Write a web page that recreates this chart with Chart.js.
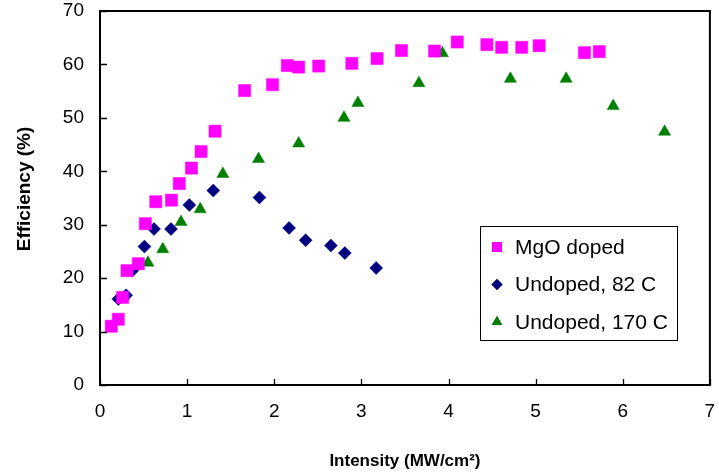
<!DOCTYPE html>
<html>
<head>
<meta charset="utf-8">
<script src="https://cdn.jsdelivr.net/npm/chart.js@4/dist/chart.umd.min.js"></script>
<style>
html,body{margin:0;padding:0;background:#fff;}
#wrap{position:relative;width:719px;height:473px;}
</style>
</head>
<body>
<div id="wrap"><canvas id="c" width="719" height="473"></canvas></div>
<script>
const mgoX = [0.13, 0.21, 0.26, 0.31, 0.44, 0.52, 0.64, 0.82, 0.91, 1.05, 1.16, 1.32, 1.66, 1.98, 2.15, 2.28, 2.51, 2.89, 3.18, 3.46, 3.84, 4.10, 4.44, 4.61, 4.84, 5.04, 5.56, 5.73];
const mgoY = [11.0, 12.3, 16.4, 21.4, 22.7, 30.2, 34.3, 34.6, 37.7, 40.6, 43.7, 47.5, 55.1, 56.2, 59.8, 59.5, 59.7, 60.2, 61.1, 62.6, 62.5, 64.2, 63.7, 63.2, 63.2, 63.5, 62.2, 62.4];
const u82X = [0.21, 0.30, 0.37, 0.51, 0.62, 0.815, 1.025, 1.30, 1.83, 2.17, 2.36, 2.65, 2.81, 3.17];
const u82Y = [16.1, 16.8, 21.4, 25.9, 29.2, 29.2, 33.7, 36.4, 35.1, 29.4, 27.1, 26.1, 24.7, 21.9];
const u170X = [0.55, 0.72, 0.93, 1.15, 1.41, 1.82, 2.28, 2.80, 2.96, 3.66, 3.93, 4.71, 5.35, 5.89, 6.48];
const u170Y = [22.9, 25.4, 30.5, 32.9, 39.5, 42.3, 45.2, 50.0, 52.8, 56.5, 62.1, 57.3, 57.3, 52.2, 47.4];
const seriesNames = ['MgO doped', 'Undoped, 82 C', 'Undoped, 170 C'];
const xTitle = 'Intensity (MW/cm\u00B2)';
const yTitle = 'Efficiency (%)';

const FONT = '"Liberation Sans", Arial, sans-serif';
const pts = (xs, ys) => xs.map((x, i) => ({x: x, y: ys[i]}));

const frame = {
  id: 'frame',
  afterDatasetsDraw(chart) {
    const {ctx, chartArea: a, scales} = chart;
    ctx.save();
    ctx.strokeStyle = '#000';
    ctx.lineWidth = 2;
    ctx.strokeRect(a.left, a.top, a.right - a.left, a.bottom - a.top);
    ctx.lineWidth = 1.3;
    ctx.beginPath();
    scales.x.ticks.forEach(t => {
      const px = Math.round(scales.x.getPixelForValue(t.value)) + 0.5;
      ctx.moveTo(px, a.bottom); ctx.lineTo(px, a.bottom - 6);
    });
    scales.y.ticks.forEach(t => {
      const py = Math.round(scales.y.getPixelForValue(t.value)) + 0.5;
      ctx.moveTo(a.left, py); ctx.lineTo(a.left + 7, py);
    });
    ctx.stroke();
    ctx.restore();
  },
  afterDraw(chart) {
    const ctx = chart.ctx;
    ctx.save();
    ctx.translate(25, 189);
    ctx.rotate(-Math.PI / 2);
    ctx.font = 'bold 19px ' + FONT;
    ctx.textAlign = 'center';
    ctx.textBaseline = 'middle';
    ctx.fillStyle = '#000';
    ctx.fillText(yTitle, 0, 0);
    ctx.restore();

    ctx.save();
    const bx = 480, by = 226, bw = 197, bh = 114;
    ctx.fillStyle = '#fff';
    ctx.fillRect(bx, by, bw, bh);
    ctx.strokeStyle = '#000';
    ctx.lineWidth = 1;
    ctx.strokeRect(bx + 0.5, by + 0.5, bw, bh);
    ctx.font = '21px ' + FONT;
    ctx.textBaseline = 'middle';
    ctx.fillStyle = '#000';
    chart.data.datasets.forEach((ds, i) => {
      const cy = by + 21 + i * 37.5;
      Chart.helpers.drawPoint(ctx, {
        pointStyle: ds.pointStyle,
        radius: ds.legendRadius,
        borderWidth: 0
      }, 497, cy);
      ctx.fillStyle = ds.backgroundColor;
      ctx.strokeStyle = ds.backgroundColor;
      ctx.fill();
      ctx.fillStyle = '#000';
      ctx.fillText(ds.label, 515, cy + 1);
    });
    ctx.restore();
  }
};

new Chart(document.getElementById('c'), {
  type: 'scatter',
  data: {
    datasets: [
      {label: seriesNames[0], data: pts(mgoX, mgoY), pointStyle: 'rect', pointRadius: 8.6, pointHoverRadius: 8.6,
       backgroundColor: '#FF00FF', borderColor: '#FF00FF', borderWidth: 0.5, legendRadius: 7},
      {label: seriesNames[1], data: pts(u82X, u82Y), pointStyle: 'rectRot', pointRadius: 6.5, pointHoverRadius: 6.5,
       backgroundColor: '#000080', borderColor: '#000080', borderWidth: 0.5, legendRadius: 5.5},
      {label: seriesNames[2], data: pts(u170X, u170Y), pointStyle: 'triangle', pointRadius: 7, pointHoverRadius: 7,
       backgroundColor: '#008000', borderColor: '#008000', borderWidth: 0.5, legendRadius: 6}
    ]
  },
  options: {
    responsive: false,
    animation: false,
    events: [],
    layout: {padding: {left: 0, right: 9, top: 11, bottom: 0}},
    plugins: {legend: {display: false}, tooltip: {enabled: false}},
    scales: {
      x: {
        type: 'linear', min: 0, max: 7,
        afterFit: s => { s.height = 88; s.paddingLeft = 0; s.paddingRight = 0; },
        ticks: {stepSize: 1, color: '#000', padding: 15, font: {family: FONT, size: 19}},
        grid: {display: true, drawOnChartArea: false, drawTicks: false, color: 'rgba(0,0,0,0)'},
        border: {display: false},
        title: {display: true, text: xTitle, color: '#000', font: {family: FONT, size: 17, weight: 'bold'}, padding: {top: 0, bottom: 1}}
      },
      y: {
        type: 'linear', min: 0, max: 70,
        afterFit: s => { s.width = 100; s.paddingTop = 0; s.paddingBottom = 0; },
        ticks: {stepSize: 10, color: '#000', padding: 16, font: {family: FONT, size: 19}},
        grid: {display: true, drawOnChartArea: false, drawTicks: false, color: 'rgba(0,0,0,0)'},
        border: {display: false},
        title: {display: false, text: yTitle}
      }
    }
  },
  plugins: [frame]
});
</script>
</body>
</html>
